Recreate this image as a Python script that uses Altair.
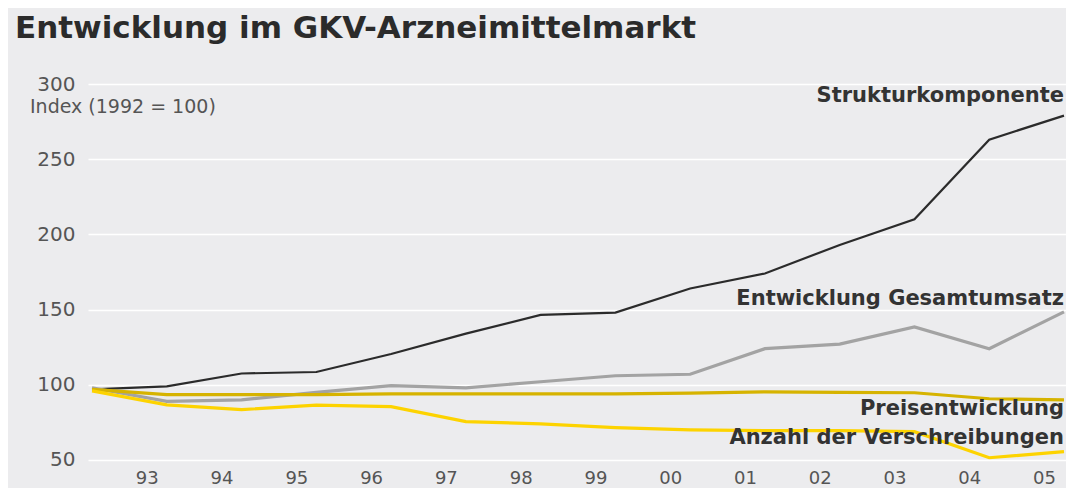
import altair as alt
import pandas as pd

years = list(range(1992, 2006))
struktur = [97, 99, 107.5, 108.5, 120.5, 134, 146.5, 148, 164, 174, 193, 210, 263, 279]
gesamt = [98, 89, 90, 95, 99.5, 98, 102, 106, 107, 124, 127, 138.5, 124, 148.5]
preis = [97, 93.5, 93.5, 93.5, 94, 94, 94, 94, 94.5, 95.3, 95, 94.7, 90.7, 90]
anzahl = [96, 86.7, 83.5, 86.5, 85.5, 75.5, 74, 71.5, 70, 69.5, 69.5, 68.8, 51.5, 55.5]

series_names = ["Strukturkomponente", "Entwicklung Gesamtumsatz",
                "Preisentwicklung", "Anzahl der Verschreibungen"]
series_values = [struktur, gesamt, preis, anzahl]
series_colors = ["#2b2b2b", "#a3a3a3", "#d6b300", "#fdd300"]
series_widths = [2.2, 3.2, 3.2, 3.2]

label_y = [292, 157, 84, 64.8]
x_tick_values = years[1:]

title_text = "Entwicklung im GKV-Arzneimittelmarkt"
axis_note = "Index (1992 = 100)"

FONT = "DejaVu Sans"

xscale = alt.Scale(domain=[1991.946, 2005.027], nice=False, zero=False)
yscale = alt.Scale(domain=[46, 300], nice=False, zero=False)

layers = []
for name, vals, col, w in zip(series_names, series_values, series_colors, series_widths):
    df = pd.DataFrame({"year": years, "value": vals})
    layers.append(
        alt.Chart(df).mark_line(color=col, strokeWidth=w, strokeJoin="miter").encode(
            x=alt.X("year:Q", scale=xscale,
                    axis=alt.Axis(values=x_tick_values, title=None, grid=False,
                                  domain=False, ticks=False, tickSize=0,
                                  labelPadding=3, labelFontSize=18, labelFont=FONT,
                                  labelColor="#555555", labelOffset=-20,
                                  labelExpr="substring(toString(datum.value), 2)")),
            y=alt.Y("value:Q", scale=yscale,
                    axis=alt.Axis(values=[50, 100, 150, 200, 250, 300], title=None,
                                  grid=True, gridColor="#ffffff", gridWidth=1.5,
                                  domain=False, ticks=False, tickSize=0,
                                  labelPadding=13, labelFontSize=20, labelFont=FONT,
                                  labelColor="#555555")),
        )
    )

lab_df = pd.DataFrame({"name": series_names, "year": [2005] * 4, "value": label_y})
labels = alt.Chart(lab_df).mark_text(
    align="right", baseline="middle", font=FONT, fontWeight="bold",
    fontSize=21, color="#333333", dx=0
).encode(
    x=alt.X("year:Q", scale=xscale),
    y=alt.Y("value:Q", scale=yscale),
    text="name:N",
)

title_df = pd.DataFrame({"t": [title_text]})
title = alt.Chart(title_df).mark_text(
    align="left", baseline="alphabetic", font=FONT, fontWeight="bold",
    fontSize=31, color="#2b2b2b"
).encode(x=alt.value(-73), y=alt.value(-46), text="t:N")

note_df = pd.DataFrame({"t": [axis_note]})
note = alt.Chart(note_df).mark_text(
    align="left", baseline="alphabetic", font=FONT,
    fontSize=19, color="#555555"
).encode(x=alt.value(-58), y=alt.value(29), text="t:N")

chart = alt.layer(*layers, labels, title, note).properties(
    width=978, height=382,
    autosize=alt.AutoSizeParams(type="none"),
    padding={"left": 80, "top": 76, "right": 0, "bottom": 22},
    background="#ececee",
).configure_view(stroke=None)

chart.save("out.html", embed_options={"renderer": "svg", "actions": False})
